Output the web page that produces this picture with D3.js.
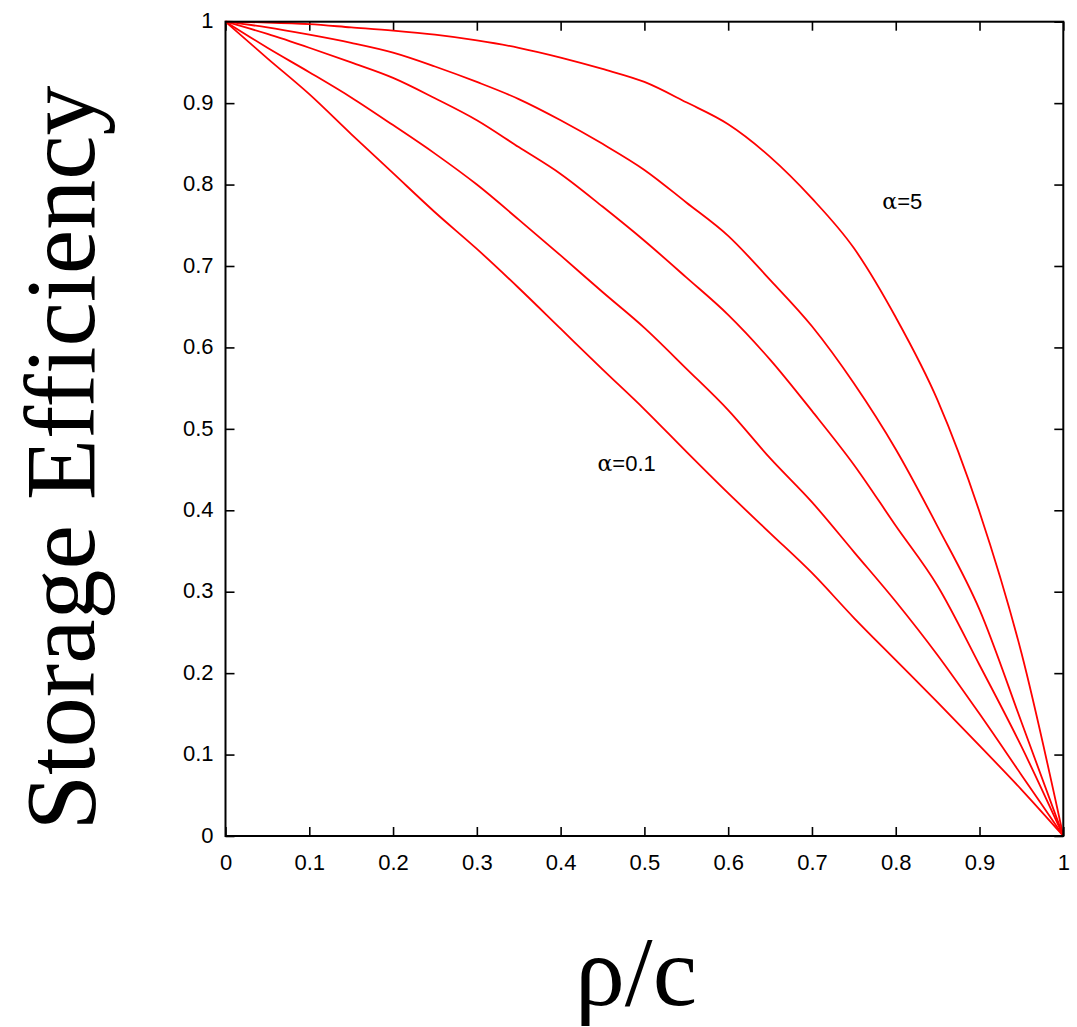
<!DOCTYPE html>
<html>
<head>
<meta charset="utf-8">
<script src="https://cdn.jsdelivr.net/npm/d3@7"></script>
<style>
  html, body { margin: 0; padding: 0; background: #fff; }
  svg { display: block; }
</style>
</head>
<body>
<svg id="chart" width="1077" height="1027"></svg>
<script>
// ---- data ----
const xValues = [0, 0.05, 0.1, 0.15, 0.2, 0.25, 0.3, 0.35, 0.4, 0.45, 0.5,
                 0.55, 0.6, 0.65, 0.7, 0.75, 0.8, 0.85, 0.9, 0.95, 1];
const seriesNames = ["α=5", "α=2", "α=1", "α=0.5", "α=0.1"];
const alpha5   = [1, 0.999, 0.997, 0.993, 0.989, 0.984, 0.977, 0.968, 0.956, 0.942, 0.926,
                  0.901, 0.874, 0.834, 0.783, 0.722, 0.637, 0.535, 0.398, 0.225, 0];
const alpha2   = [1, 0.993, 0.984, 0.974, 0.962, 0.945, 0.926, 0.905, 0.879, 0.850, 0.818,
                  0.778, 0.737, 0.683, 0.626, 0.556, 0.475, 0.380, 0.278, 0.140, 0];
const alpha1   = [1, 0.985, 0.968, 0.950, 0.931, 0.906, 0.879, 0.846, 0.813, 0.773, 0.731,
                  0.686, 0.640, 0.585, 0.522, 0.456, 0.381, 0.307, 0.210, 0.110, 0];
const alpha05  = [1, 0.968, 0.938, 0.907, 0.873, 0.838, 0.800, 0.757, 0.713, 0.668, 0.624,
                  0.574, 0.523, 0.464, 0.410, 0.349, 0.288, 0.222, 0.150, 0.075, 0];
const alpha01  = [1, 0.955, 0.911, 0.862, 0.814, 0.766, 0.721, 0.673, 0.623, 0.573, 0.524,
                  0.472, 0.421, 0.372, 0.323, 0.268, 0.216, 0.164, 0.111, 0.057, 0];
const xTickValues = [0, 0.1, 0.2, 0.3, 0.4, 0.5, 0.6, 0.7, 0.8, 0.9, 1];
const xTickLabels = ["0", "0.1", "0.2", "0.3", "0.4", "0.5", "0.6", "0.7", "0.8", "0.9", "1"];
const yTickValues = [0, 0.1, 0.2, 0.3, 0.4, 0.5, 0.6, 0.7, 0.8, 0.9, 1];
const yTickLabels = ["0", "0.1", "0.2", "0.3", "0.4", "0.5", "0.6", "0.7", "0.8", "0.9", "1"];
const annotations = [
  { greek: "α", rest: "=5",   x: 0.784, y: 0.77 },
  { greek: "α", rest: "=0.1", x: 0.444, y: 0.448 }
];
const xTitle = "ρ/c";
const yTitle = "Storage Efficiency";

// ---- layout ----
const mLeft = 225.5, mRight = 1063.3, mTop = 21.7, mBottom = 836;
const svg = d3.select("#chart");
const x = d3.scaleLinear().domain([0, 1]).range([mLeft, mRight]);
const y = d3.scaleLinear().domain([0, 1]).range([mBottom, mTop]);

const tickFont = "'Liberation Sans', Arial, sans-serif";

// axes with inward ticks on all four sides
const gB = svg.append("g").attr("transform", `translate(0,${mBottom})`)
  .call(d3.axisBottom(x).tickValues(xTickValues).tickSize(-9).tickPadding(18)
    .tickFormat((d, i) => xTickLabels[i]));
const gL = svg.append("g").attr("transform", `translate(${mLeft},0)`)
  .call(d3.axisLeft(y).tickValues(yTickValues).tickSize(-9).tickPadding(12)
    .tickFormat((d, i) => yTickLabels[i]));
const gT = svg.append("g").attr("transform", `translate(0,${mTop})`)
  .call(d3.axisTop(x).tickValues(xTickValues).tickSize(-9).tickFormat(""));
const gR = svg.append("g").attr("transform", `translate(${mRight},0)`)
  .call(d3.axisRight(y).tickValues(yTickValues).tickSize(-9).tickFormat(""));

[gB, gL, gT, gR].forEach(g => {
  g.select(".domain").remove();
  g.selectAll(".tick line").attr("stroke", "#000").attr("stroke-width", 1.6);
  g.selectAll(".tick text").attr("fill", "#000")
    .style("font-family", tickFont).style("font-size", "22px");
});
gL.selectAll(".tick text").attr("dy", "0.28em");

// lines
const series = [alpha5, alpha2, alpha1, alpha05, alpha01];
const line = d3.line().x((d, i) => x(xValues[i])).y(d => y(d)).curve(d3.curveMonotoneX);
svg.append("g").selectAll("path").data(series).join("path")
  .attr("d", d => line(d))
  .attr("fill", "none").attr("stroke", "#ff0000").attr("stroke-width", 1.8)
  .attr("stroke-linejoin", "round");

// frame
svg.append("rect")
  .attr("x", mLeft).attr("y", mTop)
  .attr("width", mRight - mLeft).attr("height", mBottom - mTop)
  .attr("fill", "none").attr("stroke", "#000").attr("stroke-width", 2);

// annotations
annotations.forEach(a => {
  const t = svg.append("text")
    .attr("x", x(a.x)).attr("y", y(a.y))
    .style("font-size", "22px").attr("fill", "#000");
  t.append("tspan").text(a.greek).style("font-family", "'DejaVu Serif', 'Liberation Serif', serif")
    .style("font-size", "22px");
  t.append("tspan").text(a.rest).style("font-family", tickFont);
});

// axis titles
svg.append("text")
  .attr("transform", `translate(94,458) rotate(-90)`)
  .attr("text-anchor", "middle")
  .style("font-family", "'Liberation Serif', 'Times New Roman', serif")
  .style("font-size", "100px").attr("fill", "#000")
  .text(yTitle);
svg.append("text")
  .attr("x", 636).attr("y", 1005)
  .attr("text-anchor", "middle")
  .style("font-family", "'Liberation Serif', 'Times New Roman', serif")
  .style("font-size", "100px").attr("fill", "#000")
  .text(xTitle);
</script>
</body>
</html>
